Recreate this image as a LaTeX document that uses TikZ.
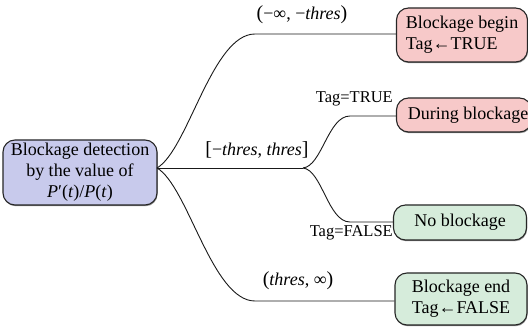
\documentclass[tikz,border=0pt]{standalone}
\usepackage{fontspec}
\setmainfont{Liberation Serif}
\usetikzlibrary{shadows}
\definecolor{lavf}{RGB}{200,202,236}
\definecolor{pinkf}{RGB}{247,201,201}
\definecolor{greenf}{RGB}{214,236,219}
\begin{document}
\begin{tikzpicture}[x=1pt,y=-1pt,
  box/.style={draw=black!85, line width=1.1pt, rounded corners=12pt, align=center,
    inner sep=0pt, font=\fontsize{18}{21}\selectfont,
    drop shadow={shadow xshift=0.6pt, shadow yshift=-1.2pt, fill=black!55, opacity=0.8}},
  lbl/.style={font=\fontsize{18}{21}\selectfont, inner sep=0pt},
  tag/.style={font=\fontsize{16.5}{19}\selectfont, inner sep=0pt},
  wire/.style={line width=0.9pt, black!90}]
\useasboundingbox (0,0) rectangle (528,328);

\node[box, fill=lavf, minimum width=154pt, minimum height=65pt] (det) at (80,172.5)
  {Blockage detection\\by the value of\\\textit{P}′(\textit{t})/\textit{P}(\textit{t})};

\node[box, fill=pinkf, minimum width=131pt, minimum height=54pt, align=left] (b1) at (462,35)
  {Blockage begin\\Tag←TRUE};
\node[box, fill=pinkf, minimum width=135pt, minimum height=34pt] (b2) at (464,115)
  {\hspace*{8pt}During blockage};
\node[box, fill=greenf, minimum width=133pt, minimum height=35pt] (b3) at (460,222.5)
  {No blockage};
\node[box, fill=greenf, minimum width=132pt, minimum height=52pt, align=left] (b4) at (461,299)
  {Blockage end\\Tag←FALSE};

\coordinate (j0) at (157,168);
\coordinate (j1) at (303,168);

\draw[wire] (j0) .. controls (188,150) and (212,34) .. (255,34) -- (b1.west |- 0,34);
\draw[wire] (j0) .. controls (188,186) and (212,301) .. (255,301) -- (b4.west |- 0,301);
\draw[wire] (j0) -- (j1);
\draw[wire] (j1) .. controls (322,166) and (328,116) .. (350,116) -- (b2.west |- 0,116);
\draw[wire] (j1) .. controls (322,170) and (328,222) .. (350,222) -- (b3.west |- 0,222);

\node[lbl] (l1) at (302,15) {{\fontsize{20}{20}\selectfont(}−∞, −\textit{thres}{\fontsize{20}{20}\selectfont)}};
\node[lbl] (l2) at (257,150) {{\fontsize{20}{20}\selectfont[}−\textit{thres}, \textit{thres}{\fontsize{20}{20}\selectfont]}};
\node[lbl] (l3) at (298,281) {{\fontsize{20}{20}\selectfont(}\textit{thres}, ∞{\fontsize{20}{20}\selectfont)}};

\node[tag, anchor=east] (t1) at (393,99) {Tag=TRUE};
\node[tag, anchor=east] (t2) at (393,233) {Tag=FALSE};
\end{tikzpicture}
\end{document}
